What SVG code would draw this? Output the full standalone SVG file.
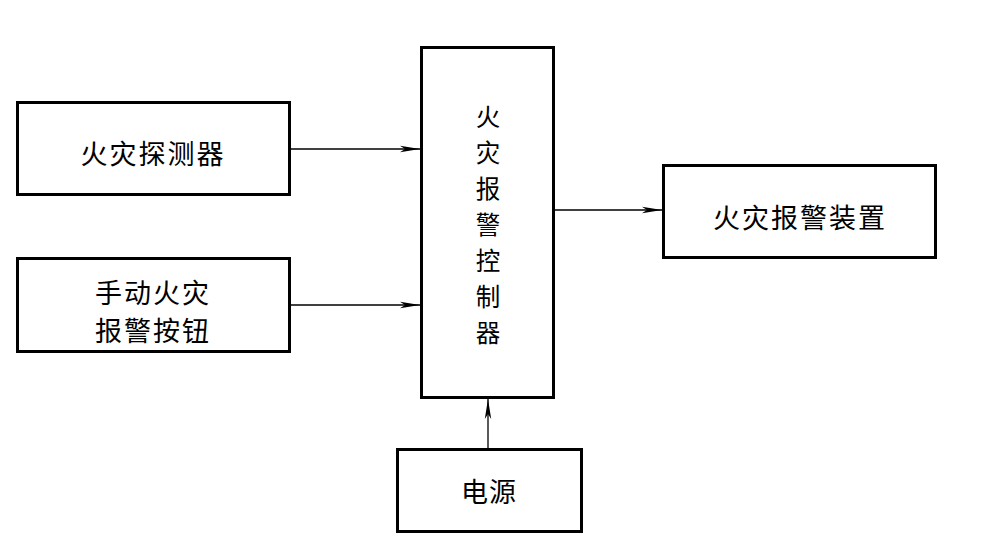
<svg xmlns="http://www.w3.org/2000/svg" width="987" height="543" viewBox="0 0 987 543">
<style>
.box{fill:#fff;stroke:#000;stroke-width:3}
.t{font-family:"Noto Sans CJK SC","Noto Sans CJK JP",sans-serif;font-size:27px;fill:#000;text-anchor:middle;dominant-baseline:central}
.v{font-size:24.5px}
.ln{stroke:#000;stroke-width:1.3;fill:none}
</style>
<defs>
<marker id="ah" viewBox="0 0 20 8" refX="20" refY="4" markerWidth="20" markerHeight="8" markerUnits="userSpaceOnUse" orient="auto">
<path d="M0,0.8 L20,4 L0,7.2 L5,4 Z" fill="#000"/>
</marker>
</defs>
<rect width="987" height="543" fill="#fff"/>
<g id="connectors">
<line class="ln" x1="290" y1="149" x2="420" y2="149" marker-end="url(#ah)"/>
<line class="ln" x1="290" y1="305" x2="420" y2="305" marker-end="url(#ah)"/>
<line class="ln" x1="555" y1="210" x2="662" y2="210" marker-end="url(#ah)"/>
<line class="ln" x1="488" y1="449" x2="488" y2="399" marker-end="url(#ah)"/>
</g>
<g id="detector">
<rect class="box" x="17.5" y="102.5" width="272" height="92"/>
<text class="t" x="153" y="152" letter-spacing="2">火灾探测器</text>
</g>
<g id="manual">
<rect class="box" x="17.5" y="258.5" width="272" height="93"/>
<text class="t" x="153" y="291" letter-spacing="2">手动火灾</text>
<text class="t" x="153" y="329" letter-spacing="2">报警按钮</text>
</g>
<g id="controller">
<rect class="box" x="421.5" y="47.5" width="132" height="350"/>
<text class="t v" x="488" y="115">火</text>
<text class="t v" x="488" y="151">灾</text>
<text class="t v" x="488" y="187">报</text>
<text class="t v" x="488" y="223">警</text>
<text class="t v" x="488" y="259">控</text>
<text class="t v" x="488" y="295">制</text>
<text class="t v" x="488" y="331">器</text>
</g>
<g id="alarm">
<rect class="box" x="663.5" y="165.5" width="272" height="92"/>
<text class="t" x="800" y="216" letter-spacing="2">火灾报警装置</text>
</g>
<g id="power">
<rect class="box" x="397.5" y="449.5" width="184" height="82"/>
<text class="t" x="489" y="490" letter-spacing="1">电源</text>
</g>
</svg>
